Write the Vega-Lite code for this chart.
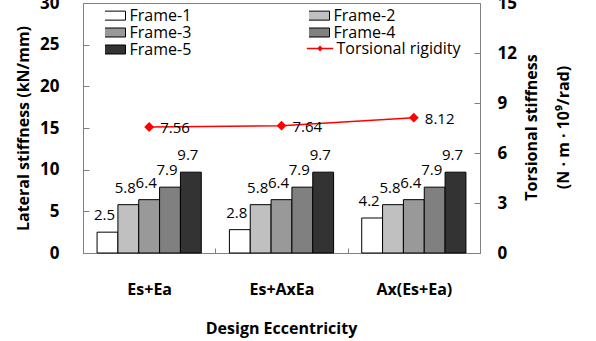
{
  "$schema": "https://vega.github.io/schema/vega-lite/v6.json",
  "width": 397,
  "height": 250,
  "autosize": {"type": "none"},
  "padding": {"left": 83, "top": 3, "right": 116, "bottom": 88},
  "background": "white",
  "config": {
    "font": "Open Sans",
    "view": {"stroke": "#808080", "strokeWidth": 1},
    "axis": {"grid": false, "domain": false, "tickColor": "#808080", "labelColor": "#000000", "titleColor": "#000000"},
    "legend": {"labelFontSize": 16, "labelColor": "#000000", "labelOffset": 8.5, "symbolSize": 64}
  },
  "datasets": {
    "frames": [
      {"ecc": "Es+Ea", "frame": "Frame-1", "stiffness": 2.5},
      {"ecc": "Es+Ea", "frame": "Frame-2", "stiffness": 5.8},
      {"ecc": "Es+Ea", "frame": "Frame-3", "stiffness": 6.4},
      {"ecc": "Es+Ea", "frame": "Frame-4", "stiffness": 7.9},
      {"ecc": "Es+Ea", "frame": "Frame-5", "stiffness": 9.7},
      {"ecc": "Es+AxEa", "frame": "Frame-1", "stiffness": 2.8},
      {"ecc": "Es+AxEa", "frame": "Frame-2", "stiffness": 5.8},
      {"ecc": "Es+AxEa", "frame": "Frame-3", "stiffness": 6.4},
      {"ecc": "Es+AxEa", "frame": "Frame-4", "stiffness": 7.9},
      {"ecc": "Es+AxEa", "frame": "Frame-5", "stiffness": 9.7},
      {"ecc": "Ax(Es+Ea)", "frame": "Frame-1", "stiffness": 4.2},
      {"ecc": "Ax(Es+Ea)", "frame": "Frame-2", "stiffness": 5.8},
      {"ecc": "Ax(Es+Ea)", "frame": "Frame-3", "stiffness": 6.4},
      {"ecc": "Ax(Es+Ea)", "frame": "Frame-4", "stiffness": 7.9},
      {"ecc": "Ax(Es+Ea)", "frame": "Frame-5", "stiffness": 9.7}
    ],
    "torsion": [
      {"ecc": "Es+Ea", "series": "Torsional rigidity", "rigidity": 7.56},
      {"ecc": "Es+AxEa", "series": "Torsional rigidity", "rigidity": 7.64},
      {"ecc": "Ax(Es+Ea)", "series": "Torsional rigidity", "rigidity": 8.12}
    ]
  },
  "layer": [
    {
      "data": {"name": "frames"},
      "encoding": {
        "x": {
          "field": "ecc", "type": "nominal",
          "sort": ["Es+Ea", "Es+AxEa", "Ax(Es+Ea)"],
          "scale": {"paddingInner": 0, "paddingOuter": 0},
          "axis": {
            "title": "Design Eccentricity",
            "labelAngle": 0, "labelFontSize": 16, "labelFontWeight": "bold", "labelPadding": 33,
            "tickBand": "extent", "tickSize": -5,
            "titleFontSize": 16, "titleFontWeight": "bold",
            "titleX": 198, "titleY": 75, "titleBaseline": "middle"
          }
        },
        "xOffset": {"field": "frame", "type": "nominal", "scale": {"paddingInner": 0, "paddingOuter": 0.675}},
        "y": {
          "field": "stiffness", "type": "quantitative",
          "scale": {"domain": [0, 30]},
          "axis": {
            "title": "Lateral stiffness (kN/mm)",
            "values": [0, 5, 10, 15, 20, 25, 30],
            "tickSize": -6, "labelPadding": 30,
            "labelFontSize": 17, "labelFontWeight": "bold",
            "titleFontSize": 16, "titleFontWeight": "bold",
            "titleX": -60, "titleY": 125, "titleBaseline": "middle", "titleAlign": "center", "titleAngle": -90
          }
        }
      },
      "layer": [
        {
          "mark": {"type": "bar", "stroke": "#000000", "strokeWidth": 1},
          "encoding": {
            "fill": {
              "field": "frame", "type": "nominal",
              "scale": {
                "domain": ["Frame-1", "Frame-2", "Frame-3", "Frame-4", "Frame-5"],
                "range": ["#ffffff", "#c0c0c0", "#999999", "#808080", "#333333"]
              },
              "legend": {
                "title": null, "orient": "none", "legendX": 22, "legendY": 5.75,
                "direction": "horizontal", "columns": 2, "columnPadding": 117, "rowPadding": 0,
                "clipHeight": 13.5,
                "symbolType": "M-3.125,-1.125H3.125V1.125H-3.125Z",
                "symbolStrokeColor": "#000000", "symbolStrokeWidth": 1
              }
            }
          }
        },
        {
          "mark": {"type": "text", "fontSize": 15, "dx": -3, "dy": -12, "baseline": "alphabetic", "color": "#000000"},
          "encoding": {"text": {"field": "stiffness", "type": "quantitative", "format": ".1f"}}
        }
      ]
    },
    {
      "data": {"name": "torsion"},
      "encoding": {
        "x": {"field": "ecc", "type": "nominal", "sort": ["Es+Ea", "Es+AxEa", "Ax(Es+Ea)"]},
        "y": {
          "field": "rigidity", "type": "quantitative",
          "scale": {"domain": [0, 15]},
          "axis": {
            "orient": "right",
            "title": ["Torsional stiffness", "(N · m · 10⁹/rad)"],
            "values": [0, 3, 6, 9, 12, 15],
            "tickSize": -6, "labelPadding": 23,
            "labelFontSize": 17, "labelFontWeight": "bold",
            "titleFontSize": 16, "titleFontWeight": "bold", "titleLineHeight": 32,
            "titleX": 51, "titleY": 124, "titleBaseline": "middle", "titleAlign": "center", "titleAngle": -90
          }
        }
      },
      "layer": [
        {
          "mark": {"type": "line", "strokeWidth": 1.5, "point": {"shape": "diamond", "size": 50, "filled": true, "color": "#ff0000"}},
          "encoding": {
            "stroke": {
              "field": "series", "type": "nominal",
              "scale": {"domain": ["Torsional rigidity"], "range": ["#ff0000"]},
              "legend": {
                "title": null, "orient": "none", "legendX": 229, "legendY": 37.5,
                "symbolType": "M-3.3,0H3.3M0,-0.5L0.45,0L0,0.5L-0.45,0Z",
                "symbolFillColor": "#ff0000", "symbolStrokeWidth": 1.5
              }
            }
          }
        },
        {
          "mark": {"type": "text", "fontSize": 15, "dx": 11, "dy": 1, "align": "left", "baseline": "middle", "color": "#000000"},
          "encoding": {"text": {"field": "rigidity", "type": "quantitative", "format": ".2f"}}
        }
      ]
    }
  ],
  "resolve": {"scale": {"y": "independent"}}
}
